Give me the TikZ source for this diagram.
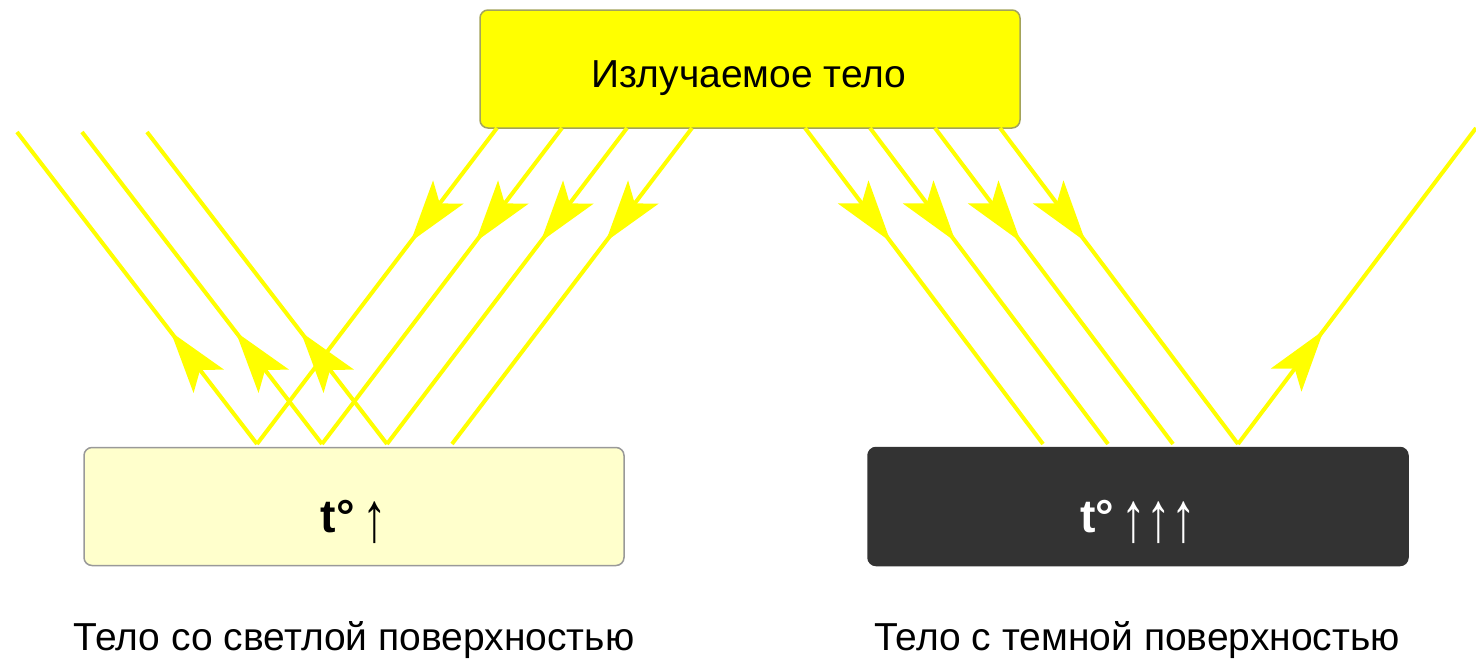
\documentclass[tikz,border=0pt]{standalone}
\usepackage{fontspec}
\setmainfont{Liberation Sans}
\usetikzlibrary{arrows.meta,decorations.markings}

\definecolor{rayyellow}{HTML}{FFFF00}
\definecolor{srcedge}{HTML}{A3A35A}
\definecolor{lightfill}{HTML}{FFFFCC}
\definecolor{lightedge}{HTML}{999999}
\definecolor{darkfill}{HTML}{333333}

\newcommand{\uparr}{\raisebox{-0.9mm}{\scalebox{0.8}[1.15]{\fontsize{17.5}{20}\selectfont ↑}}}

\begin{document}
\begin{tikzpicture}[x=0.1mm,y=-0.1mm,
    body/.style={rounded corners=0.8mm,line width=0.15mm,
                 minimum width=54mm,minimum height=11.8mm,inner sep=0pt},
    caption/.style={font=\fontsize{11.1}{13}\selectfont,anchor=base,inner sep=0pt},
    temp/.style={font=\fontsize{13.2}{15}\selectfont,anchor=base,inner sep=0pt},
    ray/.style={rayyellow,line width=0.4mm,postaction={decorate},
                decoration={markings,mark=at position 0.36 with
                  {\arrow{Stealth[length=6.2mm,width=3.8mm,inset=1.4mm]}}}}]

  \useasboundingbox (0,0) rectangle (1476,660);

  % the three bodies
  \node[body,draw=srcedge,fill=rayyellow] (src) at (750,69) {};
  \node[body,draw=lightedge,fill=lightfill] (light) at (354,506.5) {};
  \node[body,draw=darkfill,fill=darkfill] (dark) at (1138,506.5) {};

  \node[caption] (srctext) at (749,87) {Излучаемое тело};
  \node[temp] (lighttemp) at (354,532) {\textbf{t°}\,\uparr};
  \node[temp,text=white] (darktemp) at (1138,532) {\textbf{t°}\,\uparr\uparr\uparr};

  \node[caption] (lightcap) at (354,650) {Тело со светлой поверхностью};
  \node[caption] (darkcap) at (1137,650) {Тело с темной поверхностью};

  % where the rays leave, hit and go
  \coordinate (ls1) at (497,128);  \coordinate (lh1) at (257,444);  \coordinate (lr1) at (17,132);
  \coordinate (ls2) at (562,128);  \coordinate (lh2) at (322,444);  \coordinate (lr2) at (82,132);
  \coordinate (ls3) at (627,128);  \coordinate (lh3) at (387,444);  \coordinate (lr3) at (147,132);
  \coordinate (ls4) at (692,128);  \coordinate (lh4) at (452,444);

  \coordinate (rs1) at (805,128);  \coordinate (rh1) at (1043,444);
  \coordinate (rs2) at (870,128);  \coordinate (rh2) at (1108,444);
  \coordinate (rs3) at (935,128);  \coordinate (rh3) at (1173,444);
  \coordinate (rs4) at (1000,128); \coordinate (rh4) at (1238,444); \coordinate (rr4) at (1476,128);

  % light surface: most rays come back
  \draw[ray] (ls1) -- (lh1);  \draw[ray] (lh1) -- (lr1);
  \draw[ray] (ls2) -- (lh2);  \draw[ray] (lh2) -- (lr2);
  \draw[ray] (ls3) -- (lh3);  \draw[ray] (lh3) -- (lr3);
  \draw[ray] (ls4) -- (lh4);

  % dark surface: most rays stay
  \draw[ray] (rs1) -- (rh1);
  \draw[ray] (rs2) -- (rh2);
  \draw[ray] (rs3) -- (rh3);
  \draw[ray] (rs4) -- (rh4);  \draw[ray] (rh4) -- (rr4);
\end{tikzpicture}
\end{document}
